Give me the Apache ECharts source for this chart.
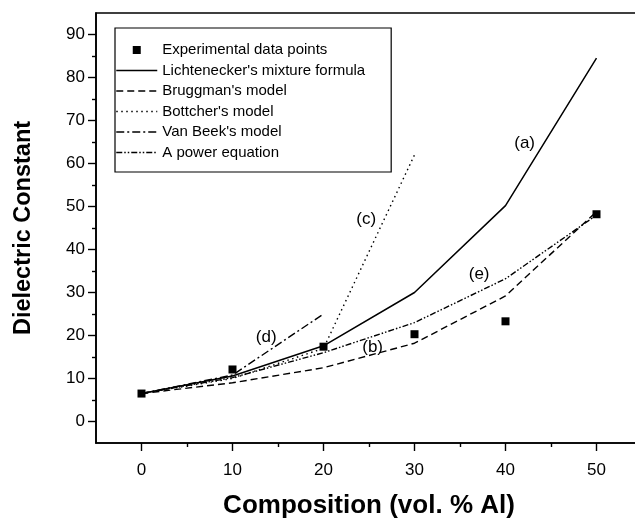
<!DOCTYPE html>
<html>
<head>
<meta charset="utf-8">
<script src="https://cdn.jsdelivr.net/npm/echarts@6/dist/echarts.min.js"></script>
<style>
  html, body { margin: 0; padding: 0; background: #fff; }
  #chart { width: 635px; height: 519px; }
</style>
</head>
<body>
<div id="chart"></div>
<script>
// Composition (vol. % Al) at which each curve is evaluated
const composition = [0, 10, 20, 30, 40, 50];

// Measured dielectric constant
const experimental = [6.5, 12.1, 17.4, 20.3, 23.3, 48.2];

// Model predictions
const lichtenecker = [6.5, 10.6, 17.6, 30.0, 50.2, 84.5];   // (a)
const bruggman = [6.5, 9.0, 12.5, 18.2, 29.2, 48.8];        // (b)
const bottcher = [6.5, 10.0, 17.0, 62.0];                   // (c)
const vanBeek = [6.5, 10.8, 25.0];                          // (d)
const powerEquation = [6.5, 10.2, 16.0, 23.0, 33.2, 48.0];  // (e)

// Tick values
const xMajorTicks = [0, 10, 20, 30, 40, 50];
const xMinorTicks = [5, 15, 25, 35, 45];
const yMajorTicks = [0, 10, 20, 30, 40, 50, 60, 70, 80, 90];
const yMinorTicks = [5, 15, 25, 35, 45, 55, 65, 75, 85];

// Curve tags and where they sit, in data units
const curveTags = ['(a)', '(b)', '(c)', '(d)', '(e)'];
const curveTagAnchors = [[42.1, 64.6], [25.4, 17.2], [24.7, 47.1], [13.7, 19.5], [37.1, 34.3]];

const FONT = '"Liberation Sans", Arial, Helvetica, sans-serif';
const pairs = (ys) => ys.map((y, i) => [composition[i], y]);

const chart = echarts.init(document.getElementById('chart'), null, { renderer: 'canvas' });

const axisLine = { show: true, onZero: false, lineStyle: { color: '#000', width: 1.6 } };
const tickLine = { color: '#000', width: 1.4 };

const modelLine = (name, values, dash, width) => ({
  name: name,
  type: 'line',
  data: pairs(values),
  symbol: 'none',
  silent: true,
  lineStyle: { color: '#000', width: width, type: dash },
  itemStyle: { color: '#000' },
  z: 3
});

chart.setOption({
  animation: false,
  backgroundColor: '#fff',
  textStyle: { fontFamily: FONT },
  grid: {
    left: 96, top: 13, width: 546, height: 430,
    show: true, borderColor: '#000', borderWidth: 1.6,
    outerBoundsMode: 'none', containLabel: false
  },
  legend: {
    data: [
      { name: 'Experimental data points', lineStyle: { opacity: 0, width: 0 } },
      { name: "Lichtenecker's mixture formula", itemStyle: { opacity: 0 } },
      { name: "Bruggman's model", itemStyle: { opacity: 0 } },
      { name: "Bottcher's model", itemStyle: { opacity: 0 } },
      { name: "Van Beek's model", itemStyle: { opacity: 0 } },
      { name: 'A power equation', itemStyle: { opacity: 0 } }
    ],
    orient: 'vertical',
    left: 115, top: 28,
    padding: [14, 26, 11.5, 0.5],
    itemWidth: 41, itemHeight: 10, itemGap: 4.5,
    borderColor: '#000', borderWidth: 1.2,
    backgroundColor: '#fff',
    selectedMode: false,
    lineStyle: { width: 1.5, color: '#000' },
    textStyle: { fontFamily: FONT, fontSize: 15, lineHeight: 16, color: '#000' }
  },
  xAxis: [
    {
      type: 'value', min: -5, max: 55,
      name: 'Composition (vol. % Al)', nameLocation: 'middle', nameGap: 50,
      nameTextStyle: { fontFamily: FONT, fontSize: 26, fontWeight: 'bold', color: '#000' },
      axisLine: axisLine,
      axisTick: { show: true, customValues: xMajorTicks, length: 8, inside: false, lineStyle: tickLine },
      axisLabel: { show: true, customValues: xMajorTicks, margin: 19, fontFamily: FONT, fontSize: 17, color: '#000' },
      splitLine: { show: false }
    },
    {
      type: 'value', min: -5, max: 55, position: 'bottom', offset: 0,
      axisLine: { show: false, onZero: false },
      axisTick: { show: true, customValues: xMinorTicks, length: 4, inside: false, lineStyle: tickLine },
      axisLabel: { show: false },
      splitLine: { show: false }
    }
  ],
  yAxis: [
    {
      type: 'value', min: -5, max: 95,
      name: 'Dielectric Constant', nameLocation: 'middle', nameGap: 60,
      nameTextStyle: { fontFamily: FONT, fontSize: 23.5, fontWeight: 'bold', color: '#000' },
      axisLine: axisLine,
      axisTick: { show: true, customValues: yMajorTicks, length: 8, inside: false, lineStyle: tickLine },
      axisLabel: { show: true, customValues: yMajorTicks, margin: 11, fontFamily: FONT, fontSize: 17, color: '#000' },
      splitLine: { show: false }
    },
    {
      type: 'value', min: -5, max: 95, position: 'left', offset: 0,
      axisLine: { show: false, onZero: false },
      axisTick: { show: true, customValues: yMinorTicks, length: 4, inside: false, lineStyle: tickLine },
      axisLabel: { show: false },
      splitLine: { show: false }
    }
  ],
  series: [
    {
      name: 'Experimental data points',
      type: 'line',
      data: pairs(experimental),
      symbol: 'rect',
      symbolSize: 8,
      showSymbol: true,
      silent: true,
      lineStyle: { width: 0, opacity: 0 },
      itemStyle: { color: '#000' },
      z: 5
    },
    modelLine("Lichtenecker's mixture formula", lichtenecker, 'solid', 1.5),
    modelLine("Bruggman's model", bruggman, [7, 4], 1.4),
    modelLine("Bottcher's model", bottcher, [1.5, 3.5], 1.4),
    modelLine("Van Beek's model", vanBeek, [8, 3, 2, 3], 1.4),
    modelLine('A power equation', powerEquation, [6, 2, 1.5, 2, 1.5, 2], 1.4)
  ]
});

// Curve tags, placed through the grid's own coordinate conversion
chart.setOption({
  graphic: curveTagAnchors.map((anchor, i) => {
    const pt = chart.convertToPixel({ gridIndex: 0 }, anchor);
    return {
      type: 'text',
      x: pt[0], y: pt[1],
      silent: true,
      z: 10,
      style: {
        text: curveTags[i],
        x: 0, y: 0,
        align: 'center',
        verticalAlign: 'middle',
        font: '17px ' + FONT,
        fill: '#000'
      }
    };
  })
});
</script>
</body>
</html>
